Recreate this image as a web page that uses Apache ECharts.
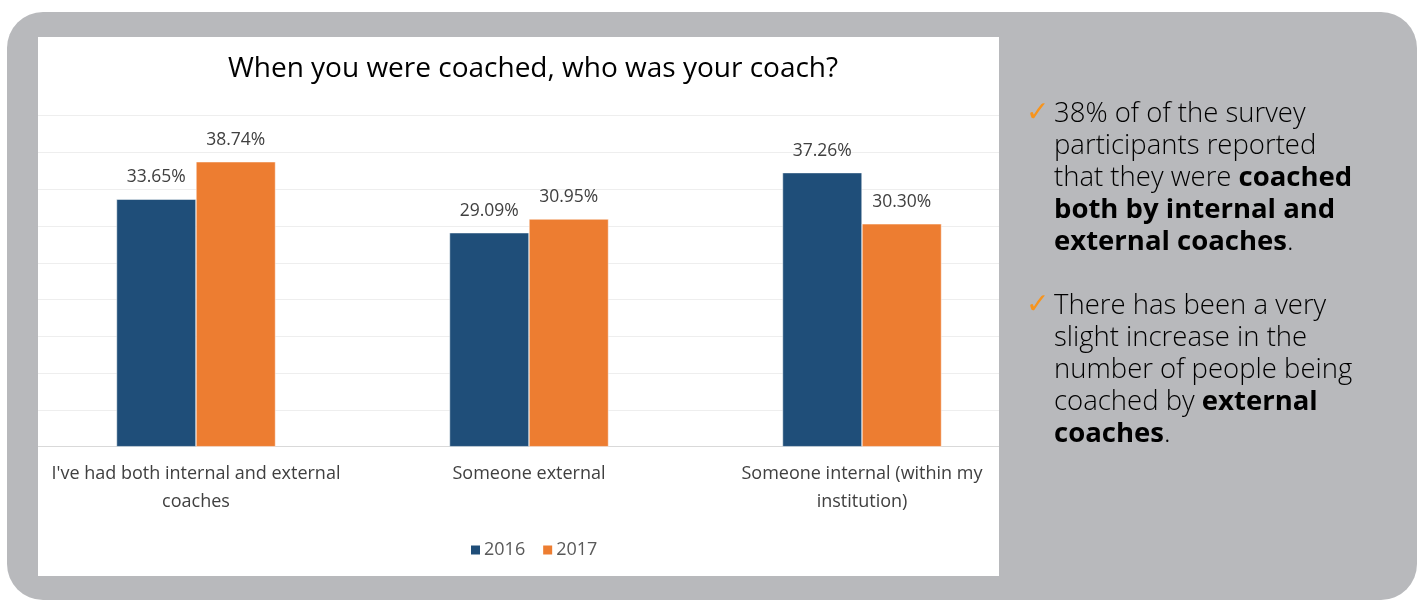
<!DOCTYPE html>
<html>
<head>
<meta charset="utf-8">
<script src="https://cdn.jsdelivr.net/npm/echarts@6/dist/echarts.min.js"></script>
<style>
  html, body { margin: 0; padding: 0; background: #ffffff; }
  #chart { width: 1423px; height: 604px; }
</style>
</head>
<body>
<div id="chart"></div>
<script>
// Survey answers: who was the coach?
const categories = [
  "I've had both internal and external\ncoaches",
  "Someone external",
  "Someone internal (within my\ninstitution)"
];
const seriesNames = ['2016', '2017'];
const values2016 = [33.65, 29.09, 37.26];
const values2017 = [38.74, 30.95, 30.30];
const yTicks = { min: 0, max: 45, interval: 5 };

const PANEL = '#b8b9bc';
const BLUE = '#1f4e79';
const ORANGE = '#ed7d31';
const FONT = 'Open Sans';
const SIDE_FONT = 'Open Sans';

const chart = echarts.init(document.getElementById('chart'), null, { renderer: 'canvas' });

const sideText =
  '{n|38% of of the survey}\n' +
  '{n|participants reported}\n' +
  '{n|that they were }{b|coached}\n' +
  '{b|both by internal and}\n' +
  '{b|external coaches}{n|.}';
const sideText2 =
  '{n|There has been a very}\n' +
  '{n|slight increase in the}\n' +
  '{n|number of people being}\n' +
  '{n|coached by }{b|external}\n' +
  '{b|coaches}{n|.}';
const sideRich = {
  n: { fontFamily: SIDE_FONT, fontSize: 27.5, fontWeight: 300, color: '#231f20', lineHeight: 32 },
  b: { fontFamily: SIDE_FONT, fontSize: 27.5, fontWeight: 'bold', color: '#231f20', lineHeight: 32 }
};

chart.setOption({
  animation: false,
  title: {
    text: 'When you were coached, who was your coach?',
    left: 528,
    top: 50,
    textAlign: 'center',
    textStyle: { fontFamily: FONT, fontSize: 28, fontWeight: 'normal', color: '#000000' }
  },
  legend: {
    data: seriesNames,
    left: 464,
    top: 536,
    itemWidth: 11,
    itemHeight: 11,
    itemGap: 16,
    icon: 'rect',
    textStyle: { fontFamily: FONT, fontSize: 18, color: '#595959', padding: [0, 0, 0, -2] }
  },
  grid: { left: 29.5, right: 394.5, top: 115.7, bottom: 157.3, containLabel: false },
  xAxis: {
    type: 'category',
    data: categories,
    axisLine: { show: true, lineStyle: { color: '#d9d9d9', width: 1 } },
    axisTick: { show: false },
    axisLabel: {
      interval: 0,
      margin: 13,
      fontFamily: FONT,
      fontSize: 18,
      lineHeight: 28,
      color: '#404040',
      align: 'center'
    }
  },
  yAxis: {
    type: 'value',
    min: yTicks.min,
    max: yTicks.max,
    interval: yTicks.interval,
    axisLine: { show: false },
    axisTick: { show: false },
    axisLabel: { show: false },
    splitLine: { show: true, lineStyle: { color: '#eeeeee', width: 1 } }
  },
  series: [
    {
      name: seriesNames[0],
      type: 'bar',
      data: values2016,
      barWidth: 79.5,
      barGap: '0%',
      itemStyle: { color: BLUE, borderColor: '#ffffff', borderWidth: 0.5 },
      label: {
        show: true, position: 'top', distance: 13,
        fontFamily: FONT, fontSize: 17.5, color: '#404040',
        formatter: p => p.value.toFixed(2) + '%'
      }
    },
    {
      name: seriesNames[1],
      type: 'bar',
      data: values2017,
      barWidth: 79.5,
      barGap: '0%',
      itemStyle: { color: ORANGE, borderColor: '#ffffff', borderWidth: 0.5 },
      label: {
        show: true, position: 'top', distance: 13,
        fontFamily: FONT, fontSize: 17.5, color: '#404040',
        formatter: p => p.value.toFixed(2) + '%'
      }
    }
  ],
  graphic: [
    // grey rounded panel and white chart card behind everything
    { type: 'rect', z: -20, silent: true,
      shape: { x: 7, y: 12, width: 1410, height: 588, r: 36 },
      style: { fill: PANEL } },
    { type: 'rect', z: -10, silent: true,
      shape: { x: 38, y: 37, width: 961, height: 539 },
      style: { fill: '#ffffff' } },
    // panel strips that trim the plot to the card edges
    { type: 'rect', z: 100, silent: true,
      shape: { x: 18, y: 37, width: 20, height: 539 },
      style: { fill: PANEL } },
    { type: 'rect', z: 100, silent: true,
      shape: { x: 999, y: 37, width: 60, height: 539 },
      style: { fill: PANEL } },
    // side notes
    { type: 'text', z: 110, left: 1026, top: 100,
      style: { text: '\u2713', fontFamily: 'DejaVu Sans', fontSize: 28, fontWeight: 'bold', fill: '#f7941d' } },
    { type: 'text', z: 110, left: 1054, top: 100,
      style: { text: sideText, rich: sideRich } },
    { type: 'text', z: 110, left: 1026, top: 292,
      style: { text: '\u2713', fontFamily: 'DejaVu Sans', fontSize: 28, fontWeight: 'bold', fill: '#f7941d' } },
    { type: 'text', z: 110, left: 1054, top: 292,
      style: { text: sideText2, rich: sideRich } }
  ]
});
</script>
</body>
</html>
